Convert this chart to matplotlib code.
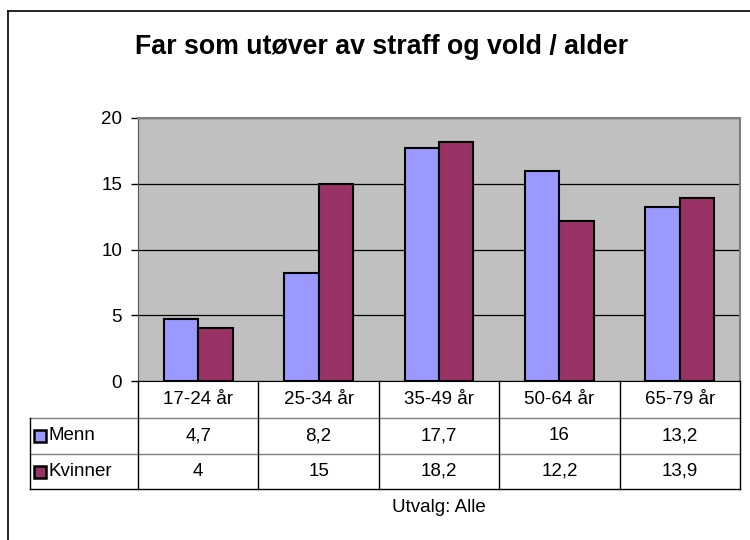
import numpy as np
import matplotlib
matplotlib.use("Agg")
import matplotlib.pyplot as plt
from matplotlib.patches import Rectangle

plt.rcParams['font.family'] = ['Liberation Sans', 'DejaVu Sans']

categories = ['17-24 år', '25-34 år', '35-49 år', '50-64 år', '65-79 år']
menn = [4.7, 8.2, 17.7, 16, 13.2]
kvinner = [4, 15, 18.2, 12.2, 13.9]
series_names = ['Menn', 'Kvinner']
colors = ['#9999FF', '#993366']
title = 'Far som utøver av straff og vold / alder'
note = 'Utvalg: Alle'


def fmt(v):
    s = ('%g' % v)
    return s.replace('.', ',')


W, H = 750, 540
fs = 13.5
fig = plt.figure(figsize=(W / 100, H / 100), dpi=100)

# plotområde i pikselkoordinater
px_left, px_right, px_top, px_bot = 138, 740, 118, 381
ax = fig.add_axes([px_left / W, 1 - px_bot / H, (px_right - px_left) / W, (px_bot - px_top) / H])
ax.set_facecolor('#C0C0C0')
n = len(categories)
x = np.arange(n)
bw = 1 / 3.5
ax.bar(x - bw / 2, menn, bw, color=colors[0], edgecolor='black', linewidth=1.5, zorder=3)
ax.bar(x + bw / 2, kvinner, bw, color=colors[1], edgecolor='black', linewidth=1.5, zorder=3)
ax.set_xlim(-0.5, n - 0.5)
ax.set_ylim(0, 20)
ax.set_yticks([0, 5, 10, 15, 20])
ax.tick_params(axis='y', labelsize=fs, length=5, width=1, direction='out', pad=6.5)
ax.set_xticks([])
ax.grid(axis='y', color='black', linewidth=0.9, zorder=1)
for s in ['top', 'right']:
    ax.spines[s].set_color('#808080')
    ax.spines[s].set_linewidth(1.5)
ax.spines['left'].set_color('#555555')
ax.spines['bottom'].set_color('black')

# overlay for ramme, tittel og datatabell
ov = fig.add_axes([0, 0, 1, 1], facecolor='none')
ov.set_xlim(0, W)
ov.set_ylim(H, 0)
ov.axis('off')

ov.plot([8, 8], [11, H], color='black', lw=1.2)
ov.plot([8, W], [11, 11], color='black', lw=1.2)

ov.text(382, 47, title, ha='center', va='center', fontsize=19.3, fontweight='bold')

tab_left = 30
row_y = [px_bot, 418, 454, 489]
col_x = np.linspace(px_left, px_right, n + 1)

# horisontale linjer
ov.plot([tab_left, px_right], [row_y[1], row_y[1]], color='#808080', lw=1)
ov.plot([tab_left, px_right], [row_y[2], row_y[2]], color='#808080', lw=1)
ov.plot([tab_left, px_right], [row_y[3], row_y[3]], color='black', lw=1)
# vertikale linjer
ov.plot([tab_left, tab_left], [row_y[1], row_y[3]], color='black', lw=1)
for cx in col_x:
    ov.plot([cx, cx], [row_y[0], row_y[3]], color='black', lw=1)

for i, c in enumerate(categories):
    cx = (col_x[i] + col_x[i + 1]) / 2
    ov.text(cx, (row_y[0] + row_y[1]) / 2, c, ha='center', va='center', fontsize=fs)
    ov.text(cx, (row_y[1] + row_y[2]) / 2, fmt(menn[i]), ha='center', va='center', fontsize=fs)
    ov.text(cx, (row_y[2] + row_y[3]) / 2, fmt(kvinner[i]), ha='center', va='center', fontsize=fs)

for r, (name, col) in enumerate(zip(series_names, colors)):
    yc = (row_y[r + 1] + row_y[r + 2]) / 2
    ov.add_patch(Rectangle((34, yc - 6), 12, 12, facecolor=col, edgecolor='black', lw=1.8))
    ov.text(48, yc, name, ha='left', va='center', fontsize=fs)

ov.text((px_left + px_right) / 2, 507, note, ha='center', va='center', fontsize=fs)

fig.savefig('out.png', dpi=100)
